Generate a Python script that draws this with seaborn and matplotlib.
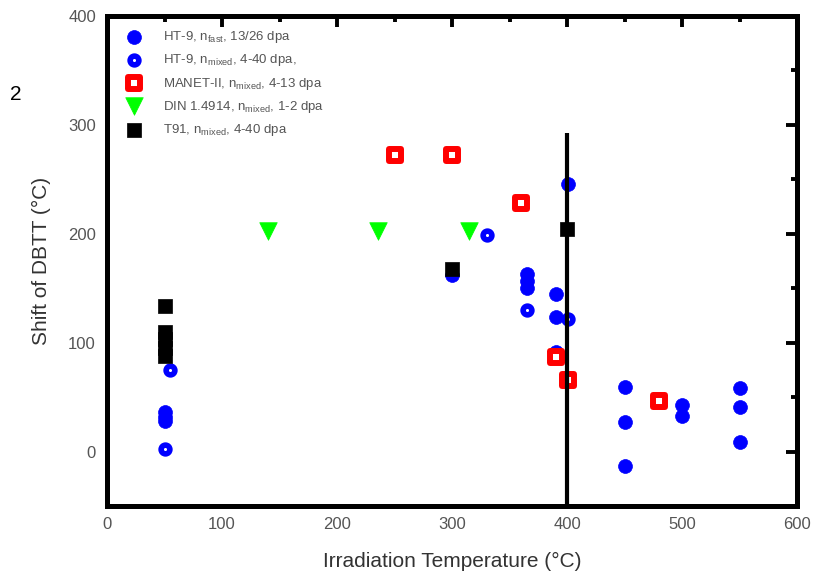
import matplotlib
matplotlib.use("Agg")
import matplotlib.pyplot as plt
import seaborn as sns
import pandas as pd
from matplotlib.ticker import MultipleLocator

# ---- data ----
ht9_fast_x = [50, 50, 50, 300, 365, 365, 365, 390, 390, 390, 401, 450, 450, 450, 500, 500, 550, 550, 550]
ht9_fast_y = [28, 32, 36, 162, 163, 157, 150, 145, 124, 91, 246, 59, 27, -13, 43, 33, 58, 41, 9]

ht9_mixed_x = [55, 50, 330, 365, 401]
ht9_mixed_y = [75, 2, 199, 130, 122]

t91_x = [50, 50, 50, 50, 50, 300, 400]
t91_y = [134, 110, 103, 95, 88, 168, 204]

manet_x = [250, 300, 360, 390, 401, 480]
manet_y = [272, 272, 228, 87, 66, 46]

din_x = [140, 236, 315]
din_y = [203, 203, 203]

labels = [r"HT-9, n$_{\rm fast}$, 13/26 dpa",
          r"HT-9, n$_{\rm mixed}$, 4-40 dpa,",
          r"MANET-II, n$_{\rm mixed}$, 4-13 dpa",
          r"DIN 1.4914, n$_{\rm mixed}$, 1-2 dpa",
          r"T91, n$_{\rm mixed}$, 4-40 dpa"]

vline_x = 400
vline_top = 293

x_ticks = [0, 100, 200, 300, 400, 500, 600]
y_ticks = [0, 100, 200, 300, 400]

# ---- plot ----
sns.set_style("white")
plt.rcParams['font.family'] = ['Liberation Sans', 'DejaVu Sans']
plt.rcParams['mathtext.fontset'] = 'custom'
plt.rcParams['mathtext.rm'] = 'Liberation Sans'

fig = plt.figure(figsize=(8.18, 5.74), dpi=100)
ax = fig.add_axes([107 / 818, 1 - 506 / 574, 690 / 818, 490 / 574])

blue = "#0000ff"
sns.scatterplot(x=ht9_fast_x, y=ht9_fast_y, ax=ax, marker="o", s=100,
                color=blue, edgecolor=blue, linewidth=0.5, label=labels[0], zorder=3)
sns.scatterplot(x=ht9_mixed_x, y=ht9_mixed_y, ax=ax, marker="o", s=40,
                facecolor="white", edgecolor=blue, linewidth=4, label=labels[1], zorder=3)
sns.scatterplot(x=manet_x, y=manet_y, ax=ax, marker="s", s=64,
                facecolor="white", edgecolor="#ff0000", linewidth=4.3, label=labels[2], zorder=5)
sns.scatterplot(x=din_x, y=din_y, ax=ax, marker="v", s=160,
                color="#00ff00", edgecolor="#00ff00", linewidth=0.5, label=labels[3], zorder=4)
sns.scatterplot(x=t91_x, y=t91_y, ax=ax, marker="s", s=90,
                color="black", edgecolor="black", linewidth=0.5, label=labels[4], zorder=4)

ax.vlines(vline_x, -50, vline_top, color="black", linewidth=3, zorder=6)

ax.set_xlim(0, 600)
ax.set_ylim(-50, 400)
ax.set_xticks(x_ticks)
ax.set_yticks(y_ticks)
ax.xaxis.set_minor_locator(MultipleLocator(50))
ax.yaxis.set_minor_locator(MultipleLocator(50))
ax.tick_params(which="both", direction="in", top=True, right=True, color="black")
ax.tick_params(which="major", length=8, width=2.8, labelsize=12, labelcolor="#555555", pad=8)
ax.tick_params(which="minor", length=4, width=2.8)
for sp in ax.spines.values():
    sp.set_linewidth(3.6)
    sp.set_color("black")

ax.set_xlabel("Irradiation Temperature (°C)", fontsize=15, color="#333333", labelpad=14)
ax.set_ylabel("Shift of DBTT (°C)", fontsize=15, color="#333333", labelpad=12)

leg = ax.legend(loc="upper left", frameon=False, fontsize=9.5, labelcolor="#555555",
                handletextpad=1.2, borderaxespad=0.4, labelspacing=0.55,
                bbox_to_anchor=(0.005, 0.995))

fig.text(10 / 818, 1 - 95 / 574, "2", fontsize=15, color="black", va="center", ha="left")

fig.savefig("out.png", dpi=100)
